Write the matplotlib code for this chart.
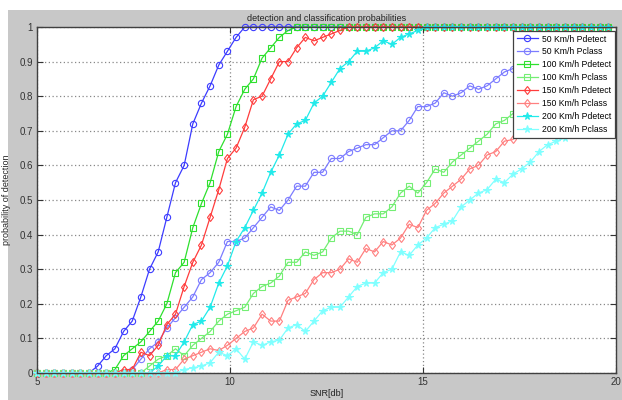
import numpy as np
import matplotlib
matplotlib.use("Agg")
import matplotlib.pyplot as plt
from matplotlib.patches import Rectangle

plt.rcParams["font.family"] = ["Liberation Sans", "DejaVu Sans"]

# SNR grid (67 samples)
snr = np.linspace(5, 19.8, 67)

# 50 Km/h
blue_det = [0]*7 + [0.02, 0.05, 0.07, 0.12, 0.15, 0.22, 0.30, 0.35, 0.45, 0.55, 0.60, 0.72,
                    0.78, 0.83, 0.89, 0.93, 0.97] + [1]*43
blue_cls = [0]*11 + [0.01, 0.04, 0.07, 0.09, 0.13, 0.16, 0.19, 0.22, 0.27, 0.29, 0.32, 0.38,
                     0.38, 0.39, 0.42, 0.45, 0.48, 0.47, 0.50, 0.54, 0.54, 0.58, 0.58, 0.62,
                     0.62, 0.64, 0.65, 0.66, 0.66, 0.68, 0.70, 0.70, 0.73, 0.77, 0.77, 0.78,
                     0.81, 0.80, 0.81, 0.83, 0.82, 0.83, 0.85, 0.87, 0.88, 0.88, 0.88, 0.90,
                     0.91, 0.91, 0.93, 0.93, 0.94, 0.95, 0.96, 0.96]
# 100 Km/h
green_det = [0]*9 + [0.01, 0.05, 0.07, 0.09, 0.12, 0.15, 0.20, 0.29, 0.32, 0.42, 0.49, 0.55,
                     0.64, 0.69, 0.77, 0.82, 0.85, 0.91, 0.94, 0.97, 0.99] + [1]*37
green_cls = [0]*13 + [0.02, 0.04, 0.05, 0.07, 0.05, 0.08, 0.10, 0.12, 0.15, 0.17, 0.18, 0.19,
                      0.23, 0.25, 0.26, 0.28, 0.32, 0.32, 0.35, 0.34, 0.35, 0.39, 0.41, 0.41,
                      0.40, 0.45, 0.46, 0.46, 0.48, 0.52, 0.54, 0.52, 0.55, 0.59, 0.58, 0.61,
                      0.63, 0.65, 0.67, 0.69, 0.72, 0.73, 0.75, 0.78, 0.78, 0.80, 0.81, 0.82,
                      0.84, 0.85, 0.86, 0.88, 0.89, 0.90]
# 150 Km/h
red_det = [0]*10 + [0.01, 0.01, 0.06, 0.05, 0.08, 0.14, 0.17, 0.25, 0.32, 0.37, 0.45, 0.53,
                    0.62, 0.65, 0.71, 0.79, 0.80, 0.85, 0.90, 0.90, 0.94, 0.97, 0.96, 0.97,
                    0.98, 0.99] + [1]*31
red_cls = [0]*15 + [0.01, 0.01, 0.04, 0.05, 0.06, 0.07, 0.065, 0.08, 0.10, 0.12, 0.13, 0.17,
                    0.15, 0.15, 0.21, 0.22, 0.23, 0.27, 0.29, 0.29, 0.30, 0.33, 0.32, 0.36,
                    0.35, 0.38, 0.37, 0.39, 0.43, 0.42, 0.47, 0.49, 0.52, 0.54, 0.56, 0.59,
                    0.60, 0.63, 0.64, 0.67, 0.675, 0.70, 0.71, 0.72, 0.74, 0.75, 0.76, 0.78,
                    0.79, 0.80, 0.82, 0.83]
# 200 Km/h
cyan_det = [0]*14 + [0.02, 0.05, 0.05, 0.09, 0.14, 0.15, 0.19, 0.26, 0.31, 0.38, 0.42, 0.47,
                     0.52, 0.58, 0.63, 0.69, 0.72, 0.73, 0.78, 0.80, 0.84, 0.88, 0.90, 0.93,
                     0.93, 0.94, 0.96, 0.95, 0.97, 0.98, 0.99] + [1]*22
cyan_cls = [0]*17 + [0.01, 0.015, 0.02, 0.03, 0.06, 0.05, 0.07, 0.04, 0.09, 0.08, 0.09, 0.095,
                     0.13, 0.14, 0.12, 0.15, 0.18, 0.19, 0.19, 0.22, 0.25, 0.26, 0.26, 0.29,
                     0.30, 0.35, 0.34, 0.37, 0.39, 0.42, 0.43, 0.44, 0.48, 0.50, 0.52, 0.53,
                     0.56, 0.55, 0.575, 0.59, 0.61, 0.64, 0.66, 0.67, 0.68, 0.70, 0.71, 0.72,
                     0.74, 0.75]

labels = ["50 Km/h Pdetect", "50 Km/h Pclass", "100 Km/h Pdetect", "100 Km/h Pclass",
          "150 Km/h Pdetect", "150 Km/h Pclass", "200 Km/h Pdetect", "200 Km/h Pclass"]
series = [blue_det, blue_cls, green_det, green_cls, red_det, red_cls, cyan_det, cyan_cls]
colors = ["#3c3cff", "#7c7cff", "#2ee02e", "#74ee74", "#ff3c3c", "#ff8080", "#22eaea", "#80ffff"]
markers = ["o", "o", "s", "s", "d", "d", "*", "*"]

fig = plt.figure(figsize=(6.22, 4.0), dpi=100)
fig.patch.set_facecolor("white")
fig.add_artist(Rectangle((8/622, 0), 1, 1 - 10/400, transform=fig.transFigure,
                         facecolor="#c8c8c8", edgecolor="none", zorder=-10))

ax = fig.add_axes([37/622, 27/400, 579/622, 346/400])
ax.set_facecolor("white")

for y, c, m, lab in zip(series, colors, markers, labels):
    ax.plot(snr, y, color=c, marker=m, markersize=4.5 if m != "*" else 5.5,
            markerfacecolor="none" if m != "*" else c, markeredgewidth=0.8,
            linewidth=0.9, label=lab, clip_on=False)

ax.set_xlim(5, 20)
ax.set_ylim(0, 1)
ax.set_xticks([5, 10, 15, 20])
ax.set_yticks(np.arange(0, 1.01, 0.1))
ax.set_yticklabels(["0", "0.1", "0.2", "0.3", "0.4", "0.5", "0.6", "0.7", "0.8", "0.9", "1"])
ax.tick_params(direction="in", top=True, right=True, length=4, labelsize=7,
               colors="#333333", pad=3)
ax.grid(True, color="#888888", linestyle=(0, (1, 2)), linewidth=0.9)
for s in ax.spines.values():
    s.set_color("#404040")
    s.set_linewidth(1.0)

ax.set_title("detection and classification probabilities", fontsize=6.5, color="#222222", pad=4)
ax.set_xlabel("SNR[db]", fontsize=6.5, color="#222222", labelpad=1)
ax.set_ylabel("probability of detection", fontsize=6.5, color="#222222", labelpad=6)

leg = ax.legend(loc="upper right", bbox_to_anchor=(1.0, 0.992), fontsize=6.2,
                frameon=True, fancybox=False, framealpha=1, edgecolor="#404040",
                handlelength=2.4, labelspacing=0.45, borderpad=0.45, handletextpad=0.5,
                borderaxespad=0.1)
leg.get_frame().set_linewidth(0.9)

fig.savefig("out.png", dpi=100, facecolor=fig.get_facecolor())
